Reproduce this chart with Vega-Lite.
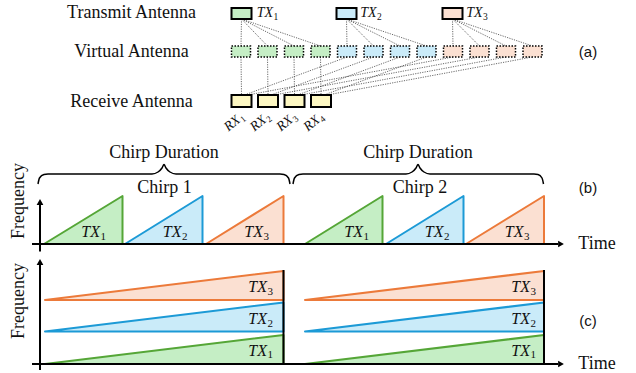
{
  "$schema": "https://vega.github.io/schema/vega-lite/v6.json",
  "width": 636,
  "height": 373,
  "autosize": {"type": "fit", "contains": "padding"},
  "padding": 0,
  "background": "white",
  "config": {"view": {"stroke": null}},
  "datasets": {
    "txbox": [
      {"tx": "1", "x": 231.5, "x2": 251.5, "y": 8, "y2": 19},
      {"tx": "2", "x": 336.5, "x2": 356.5, "y": 8, "y2": 19},
      {"tx": "3", "x": 442.5, "x2": 462.5, "y": 8, "y2": 19}
    ],
    "vbox": [
      {"tx": "1", "x": 231.5, "x2": 250.5, "y": 46, "y2": 57},
      {"tx": "1", "x": 258, "x2": 277, "y": 46, "y2": 57},
      {"tx": "1", "x": 284.5, "x2": 303.5, "y": 46, "y2": 57},
      {"tx": "1", "x": 311, "x2": 330, "y": 46, "y2": 57},
      {"tx": "2", "x": 337.5, "x2": 356.5, "y": 46, "y2": 57},
      {"tx": "2", "x": 364, "x2": 383, "y": 46, "y2": 57},
      {"tx": "2", "x": 390.5, "x2": 409.5, "y": 46, "y2": 57},
      {"tx": "2", "x": 417, "x2": 436, "y": 46, "y2": 57},
      {"tx": "3", "x": 443.5, "x2": 462.5, "y": 46, "y2": 57},
      {"tx": "3", "x": 470, "x2": 489, "y": 46, "y2": 57},
      {"tx": "3", "x": 496.5, "x2": 515.5, "y": 46, "y2": 57},
      {"tx": "3", "x": 523, "x2": 542, "y": 46, "y2": 57}
    ],
    "rxbox": [
      {"x": 231.5, "x2": 251.5, "y": 95, "y2": 107},
      {"x": 258, "x2": 278, "y": 95, "y2": 107},
      {"x": 284.5, "x2": 304.5, "y": 95, "y2": 107},
      {"x": 311, "x2": 331, "y": 95, "y2": 107}
    ],
    "link": [
      {"x": 241.5, "y": 19, "x2": 241, "y2": 46},
      {"x": 241.5, "y": 19, "x2": 267.5, "y2": 46},
      {"x": 241.5, "y": 19, "x2": 294, "y2": 46},
      {"x": 241.5, "y": 19, "x2": 320.5, "y2": 46},
      {"x": 346.5, "y": 19, "x2": 347, "y2": 46},
      {"x": 346.5, "y": 19, "x2": 373.5, "y2": 46},
      {"x": 346.5, "y": 19, "x2": 400, "y2": 46},
      {"x": 346.5, "y": 19, "x2": 426.5, "y2": 46},
      {"x": 452.5, "y": 19, "x2": 453, "y2": 46},
      {"x": 452.5, "y": 19, "x2": 479.5, "y2": 46},
      {"x": 452.5, "y": 19, "x2": 506, "y2": 46},
      {"x": 452.5, "y": 19, "x2": 532.5, "y2": 46},
      {"x": 241, "y": 57, "x2": 241.5, "y2": 95},
      {"x": 267.5, "y": 57, "x2": 268, "y2": 95},
      {"x": 294, "y": 57, "x2": 294.5, "y2": 95},
      {"x": 320.5, "y": 57, "x2": 321, "y2": 95},
      {"x": 347, "y": 57, "x2": 244.5, "y2": 95},
      {"x": 373.5, "y": 57, "x2": 271, "y2": 95},
      {"x": 400, "y": 57, "x2": 297.5, "y2": 95},
      {"x": 426.5, "y": 57, "x2": 324, "y2": 95},
      {"x": 453, "y": 57, "x2": 247.5, "y2": 95},
      {"x": 479.5, "y": 57, "x2": 274, "y2": 95},
      {"x": 506, "y": 57, "x2": 300.5, "y2": 95},
      {"x": 532.5, "y": 57, "x2": 327, "y2": 95}
    ],
    "ramp": [
      {"id": "b1-1", "tx": "1", "x": 44, "y": 244, "y2": 244},
      {"id": "b1-1", "tx": "1", "x": 122.5, "y": 196, "y2": 244},
      {"id": "b1-2", "tx": "2", "x": 125, "y": 244, "y2": 244},
      {"id": "b1-2", "tx": "2", "x": 202.5, "y": 196, "y2": 244},
      {"id": "b1-3", "tx": "3", "x": 206, "y": 244, "y2": 244},
      {"id": "b1-3", "tx": "3", "x": 283.5, "y": 196, "y2": 244},
      {"id": "b2-1", "tx": "1", "x": 305, "y": 244, "y2": 244},
      {"id": "b2-1", "tx": "1", "x": 382.5, "y": 196, "y2": 244},
      {"id": "b2-2", "tx": "2", "x": 386, "y": 244, "y2": 244},
      {"id": "b2-2", "tx": "2", "x": 463.5, "y": 196, "y2": 244},
      {"id": "b2-3", "tx": "3", "x": 466, "y": 244, "y2": 244},
      {"id": "b2-3", "tx": "3", "x": 544, "y": 196, "y2": 244},
      {"id": "c1-1", "tx": "1", "x": 45, "y": 364, "y2": 364},
      {"id": "c1-1", "tx": "1", "x": 283.5, "y": 335, "y2": 364},
      {"id": "c1-2", "tx": "2", "x": 45, "y": 331.5, "y2": 331.5},
      {"id": "c1-2", "tx": "2", "x": 283.5, "y": 302.5, "y2": 331.5},
      {"id": "c1-3", "tx": "3", "x": 45, "y": 300, "y2": 300},
      {"id": "c1-3", "tx": "3", "x": 283.5, "y": 271, "y2": 300},
      {"id": "c2-1", "tx": "1", "x": 305, "y": 364, "y2": 364},
      {"id": "c2-1", "tx": "1", "x": 544, "y": 335, "y2": 364},
      {"id": "c2-2", "tx": "2", "x": 305, "y": 331.5, "y2": 331.5},
      {"id": "c2-2", "tx": "2", "x": 544, "y": 302.5, "y2": 331.5},
      {"id": "c2-3", "tx": "3", "x": 305, "y": 300, "y2": 300},
      {"id": "c2-3", "tx": "3", "x": 544, "y": 271, "y2": 300}
    ],
    "axisline": [
      {"x": 32, "y": 244, "x2": 558, "y2": 244},
      {"x": 40, "y": 251.5, "x2": 40, "y2": 204},
      {"x": 32, "y": 364, "x2": 558, "y2": 364},
      {"x": 40, "y": 370, "x2": 40, "y2": 264},
      {"x": 283.5, "y": 270, "x2": 283.5, "y2": 364},
      {"x": 544, "y": 270, "x2": 544, "y2": 364}
    ],
    "arrowhead": [
      {"x": 40, "y": 202, "shape": "triangle-up"},
      {"x": 561, "y": 244, "shape": "triangle-right"},
      {"x": 40, "y": 262, "shape": "triangle-up"},
      {"x": 561, "y": 364, "shape": "triangle-right"}
    ],
    "brace": [
      {"id": "1", "x": 38, "y": 184}, {"id": "1", "x": 39.5, "y": 178},
      {"id": "1", "x": 44, "y": 174.5}, {"id": "1", "x": 48, "y": 174},
      {"id": "1", "x": 152, "y": 174}, {"id": "1", "x": 158, "y": 172},
      {"id": "1", "x": 162, "y": 168}, {"id": "1", "x": 164, "y": 164.5},
      {"id": "1", "x": 166, "y": 168}, {"id": "1", "x": 170, "y": 172},
      {"id": "1", "x": 176, "y": 174}, {"id": "1", "x": 280, "y": 174},
      {"id": "1", "x": 284, "y": 174.5}, {"id": "1", "x": 288.5, "y": 178},
      {"id": "1", "x": 290, "y": 184},
      {"id": "2", "x": 293, "y": 184}, {"id": "2", "x": 294.5, "y": 178},
      {"id": "2", "x": 299, "y": 174.5}, {"id": "2", "x": 303, "y": 174},
      {"id": "2", "x": 406, "y": 174}, {"id": "2", "x": 412, "y": 172},
      {"id": "2", "x": 416, "y": 168}, {"id": "2", "x": 418, "y": 164.5},
      {"id": "2", "x": 420, "y": 168}, {"id": "2", "x": 424, "y": 172},
      {"id": "2", "x": 430, "y": 174}, {"id": "2", "x": 534, "y": 174},
      {"id": "2", "x": 538, "y": 174.5}, {"id": "2", "x": 542, "y": 178},
      {"id": "2", "x": 543.5, "y": 184}
    ],
    "serif": [
      {"x": 131.5, "y": 13, "t": "Transmit Antenna"},
      {"x": 131.5, "y": 51.5, "t": "Virtual Antenna"},
      {"x": 131.5, "y": 101.5, "t": "Receive Antenna"},
      {"x": 164, "y": 152.5, "t": "Chirp Duration"},
      {"x": 418, "y": 152.5, "t": "Chirp Duration"},
      {"x": 164.5, "y": 188, "t": "Chirp 1"},
      {"x": 420, "y": 188, "t": "Chirp 2"},
      {"x": 597, "y": 244, "t": "Time"},
      {"x": 597, "y": 364, "t": "Time"}
    ],
    "freq": [
      {"x": 19, "y": 201, "t": "Frequency"},
      {"x": 19, "y": 301, "t": "Frequency"}
    ],
    "tag": [
      {"x": 588, "y": 52, "t": "(a)"},
      {"x": 588, "y": 187.5, "t": "(b)"},
      {"x": 588, "y": 320.5, "t": "(c)"}
    ],
    "txlab": [
      {"x": 100, "y": 232, "t": "TX", "s": "1"},
      {"x": 181.5, "y": 232, "t": "TX", "s": "2"},
      {"x": 263, "y": 232, "t": "TX", "s": "3"},
      {"x": 363, "y": 232, "t": "TX", "s": "1"},
      {"x": 443.5, "y": 232, "t": "TX", "s": "2"},
      {"x": 523.5, "y": 232, "t": "TX", "s": "3"},
      {"x": 267, "y": 287, "t": "TX", "s": "3"},
      {"x": 267, "y": 319, "t": "TX", "s": "2"},
      {"x": 267, "y": 350.5, "t": "TX", "s": "1"},
      {"x": 530, "y": 287, "t": "TX", "s": "3"},
      {"x": 530, "y": 319, "t": "TX", "s": "2"},
      {"x": 530, "y": 350.5, "t": "TX", "s": "1"}
    ],
    "txsmall": [
      {"x": 273, "y": 13, "t": "TX", "s": "1"},
      {"x": 376.5, "y": 13, "t": "TX", "s": "2"},
      {"x": 482.5, "y": 13, "t": "TX", "s": "3"}
    ],
    "rxlab": [
      {"x": 238.6, "y": 118.1, "t": "RX", "s": "1"},
      {"x": 264.6, "y": 118.1, "t": "RX", "s": "2"},
      {"x": 291.1, "y": 118.1, "t": "RX", "s": "3"},
      {"x": 318.1, "y": 118.1, "t": "RX", "s": "4"}
    ]
  },
  "encoding": {
    "x": {"field": "x", "type": "quantitative", "scale": {"domain": [0, 636], "nice": false, "zero": false}, "axis": null},
    "y": {"field": "y", "type": "quantitative", "scale": {"domain": [0, 373], "nice": false, "zero": false, "reverse": true}, "axis": null}
  },
  "layer": [
    {
      "data": {"name": "link"},
      "mark": {"type": "rule", "stroke": "#444444", "strokeWidth": 0.8, "strokeDash": [1.2, 1.2]},
      "encoding": {"x2": {"field": "x2"}, "y2": {"field": "y2"}}
    },
    {
      "data": {"name": "txbox"},
      "mark": {"type": "rect", "stroke": "black", "strokeWidth": 2},
      "encoding": {
        "x2": {"field": "x2"}, "y2": {"field": "y2"},
        "fill": {"field": "tx", "type": "nominal", "legend": null, "scale": {"domain": ["1", "2", "3"], "range": ["#c5eec5", "#caebf9", "#fbe0d2"]}}
      }
    },
    {
      "data": {"name": "vbox"},
      "mark": {"type": "rect", "stroke": "black", "strokeWidth": 1.5, "strokeDash": [1.5, 1.5]},
      "encoding": {
        "x2": {"field": "x2"}, "y2": {"field": "y2"},
        "fill": {"field": "tx", "type": "nominal", "legend": null, "scale": {"domain": ["1", "2", "3"], "range": ["#c5eec5", "#caebf9", "#fbe0d2"]}}
      }
    },
    {
      "data": {"name": "rxbox"},
      "mark": {"type": "rect", "stroke": "black", "strokeWidth": 2, "fill": "#fdf7c2"},
      "encoding": {"x2": {"field": "x2"}, "y2": {"field": "y2"}}
    },
    {
      "data": {"name": "ramp"},
      "mark": {"type": "area", "strokeWidth": 2, "strokeJoin": "round", "fillOpacity": 1},
      "encoding": {
        "y2": {"field": "y2"},
        "detail": {"field": "id"},
        "fill": {"field": "tx", "type": "nominal", "legend": null, "scale": {"domain": ["1", "2", "3"], "range": ["#c5eec5", "#caebf9", "#fbe0d2"]}},
        "stroke": {"field": "tx", "type": "nominal", "legend": null, "scale": {"domain": ["1", "2", "3"], "range": ["#55a637", "#1c9ad6", "#ec7a3a"]}}
      }
    },
    {
      "data": {"name": "axisline"},
      "mark": {"type": "rule", "stroke": "black", "strokeWidth": 2},
      "encoding": {"x2": {"field": "x2"}, "y2": {"field": "y2"}}
    },
    {
      "data": {"name": "arrowhead"},
      "mark": {"type": "point", "filled": true, "fill": "black", "stroke": null, "size": 45, "opacity": 1},
      "encoding": {"shape": {"field": "shape", "type": "nominal", "scale": null}}
    },
    {
      "data": {"name": "brace"},
      "mark": {"type": "line", "stroke": "black", "strokeWidth": 1.5, "interpolate": "monotone"},
      "encoding": {"detail": {"field": "id"}}
    },
    {
      "data": {"name": "serif"},
      "mark": {"type": "text", "font": "Liberation Serif", "fontSize": 18, "align": "center", "baseline": "middle", "fill": "#111111"},
      "encoding": {"text": {"field": "t"}}
    },
    {
      "data": {"name": "freq"},
      "mark": {"type": "text", "font": "Liberation Serif", "fontSize": 18, "align": "center", "baseline": "middle", "angle": 270, "fill": "#111111"},
      "encoding": {"text": {"field": "t"}}
    },
    {
      "data": {"name": "tag"},
      "mark": {"type": "text", "font": "Liberation Sans", "fontSize": 15, "align": "center", "baseline": "middle", "fill": "#111111"},
      "encoding": {"text": {"field": "t"}}
    },
    {
      "data": {"name": "txlab"},
      "mark": {"type": "text", "font": "Liberation Serif", "fontStyle": "italic", "fontSize": 16, "align": "right", "baseline": "middle", "fill": "#111111"},
      "encoding": {"text": {"field": "t"}}
    },
    {
      "data": {"name": "txlab"},
      "mark": {"type": "text", "font": "Liberation Serif", "fontSize": 11, "align": "left", "baseline": "middle", "dx": 0.5, "dy": 4.5, "fill": "#111111"},
      "encoding": {"text": {"field": "s"}}
    },
    {
      "data": {"name": "txsmall"},
      "mark": {"type": "text", "font": "Liberation Serif", "fontStyle": "italic", "fontSize": 14, "align": "right", "baseline": "middle", "fill": "#111111"},
      "encoding": {"text": {"field": "t"}}
    },
    {
      "data": {"name": "txsmall"},
      "mark": {"type": "text", "font": "Liberation Serif", "fontSize": 9.5, "align": "left", "baseline": "middle", "dx": 0.5, "dy": 4, "fill": "#111111"},
      "encoding": {"text": {"field": "s"}}
    },
    {
      "data": {"name": "rxlab"},
      "mark": {"type": "text", "font": "Liberation Serif", "fontStyle": "italic", "fontSize": 13.5, "align": "right", "baseline": "middle", "angle": 320, "fill": "#111111"},
      "encoding": {"text": {"field": "t"}}
    },
    {
      "data": {"name": "rxlab"},
      "mark": {"type": "text", "font": "Liberation Serif", "fontSize": 9, "align": "left", "baseline": "middle", "angle": 320, "dx": 0.5, "dy": 3.5, "fill": "#111111"},
      "encoding": {"text": {"field": "s"}}
    }
  ]
}
